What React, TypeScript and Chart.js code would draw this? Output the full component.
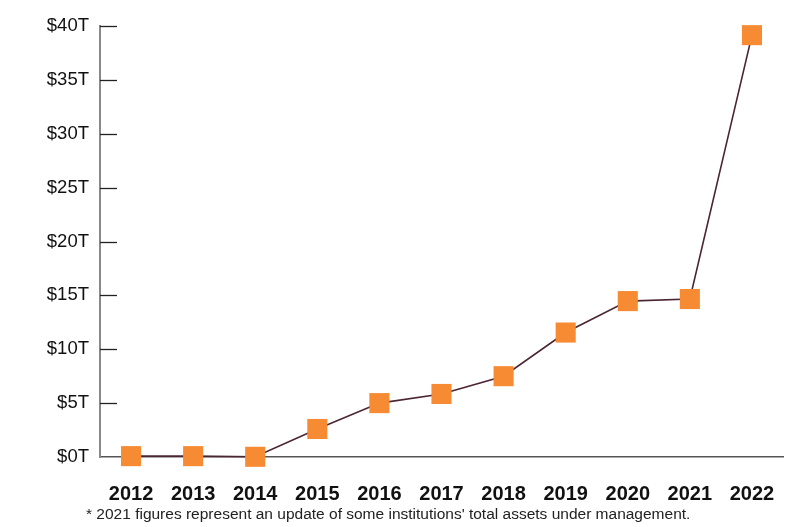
import React, { useEffect, useRef } from "react";
import { Chart, registerables } from "chart.js";

Chart.register(...registerables);

const years = ["2012", "2013", "2014", "2015", "2016", "2017", "2018", "2019", "2020", "2021", "2022"];
const assetsTrillions = [0.08, 0.08, 0.02, 2.6, 5.0, 5.85, 7.5, 11.55, 14.47, 14.66, 39.15];
const yTickValues = [0, 5, 10, 15, 20, 25, 30, 35, 40];
const footnote = "* 2021 figures represent an update of some institutions' total assets under management.";

const FONT = "'Liberation Sans', Arial, sans-serif";

const inwardTicks = {
  id: "inwardTicks",
  afterDraw(chart: any) {
    const y = chart.scales.y;
    const ctx = chart.ctx;
    const left = chart.chartArea.left;
    ctx.save();
    ctx.strokeStyle = "#222";
    ctx.lineWidth = 1.3;
    for (const v of yTickValues) {
      if (v === 0) continue;
      const py = Math.round(y.getPixelForValue(v)) + 0.5;
      ctx.beginPath();
      ctx.moveTo(left, py);
      ctx.lineTo(left + 17, py);
      ctx.stroke();
    }
    ctx.restore();
  },
};

export default function App() {
  const ref = useRef<HTMLCanvasElement>(null);
  useEffect(() => {
    if (!ref.current) return;
    const chart = new Chart(ref.current, {
      type: "line",
      data: {
        labels: years,
        datasets: [
          {
            data: assetsTrillions,
            borderColor: "#4b2533",
            borderWidth: 1.6,
            pointStyle: "rect",
            pointRadius: 14.2,
            pointHoverRadius: 14.2,
            pointBackgroundColor: "#f68b33",
            pointBorderWidth: 0,
            tension: 0,
            clip: false as any,
          },
        ],
      },
      options: {
        animation: false,
        responsive: false,
        maintainAspectRatio: false,
        layout: { padding: { top: 26, right: 25, bottom: 0, left: 0 } },
        plugins: { legend: { display: false }, tooltip: { enabled: false } },
        scales: {
          x: {
            type: "category",
            offset: true,
            grid: { display: false, drawTicks: false },
            border: { display: true, color: "#555", width: 1.5 },
            ticks: {
              padding: 25,
              color: "#111",
              font: { family: FONT, size: 20, weight: "bold" },
              maxRotation: 0,
              autoSkip: false,
            },
            afterFit: (s: any) => {
              s.height = 70;
            },
          },
          y: {
            min: 0,
            max: 40,
            grid: { display: false, drawTicks: false },
            border: { display: true, color: "#888", width: 2 },
            afterBuildTicks: (s: any) => {
              s.ticks = yTickValues.map((v) => ({ value: v }));
            },
            ticks: {
              padding: 11,
              color: "#111",
              font: { family: FONT, size: 18.5 },
              callback: (v: any) => "$" + v + "T",
            },
            afterFit: (s: any) => {
              s.width = 100;
            },
          },
        },
      },
      plugins: [inwardTicks],
    });
    return () => chart.destroy();
  }, []);
  return (
    <div style={{ position: "fixed", left: 0, top: 0, width: 808, height: 527, background: "#fff" }}>
      <canvas ref={ref} width={808} height={527} style={{ display: "block" }} />
      <div
        style={{
          position: "absolute",
          left: 86,
          top: 505,
          fontFamily: FONT,
          fontSize: 15.5,
          lineHeight: "18px",
          color: "#222",
          whiteSpace: "nowrap",
        }}
      >
        {footnote}
      </div>
    </div>
  );
}
